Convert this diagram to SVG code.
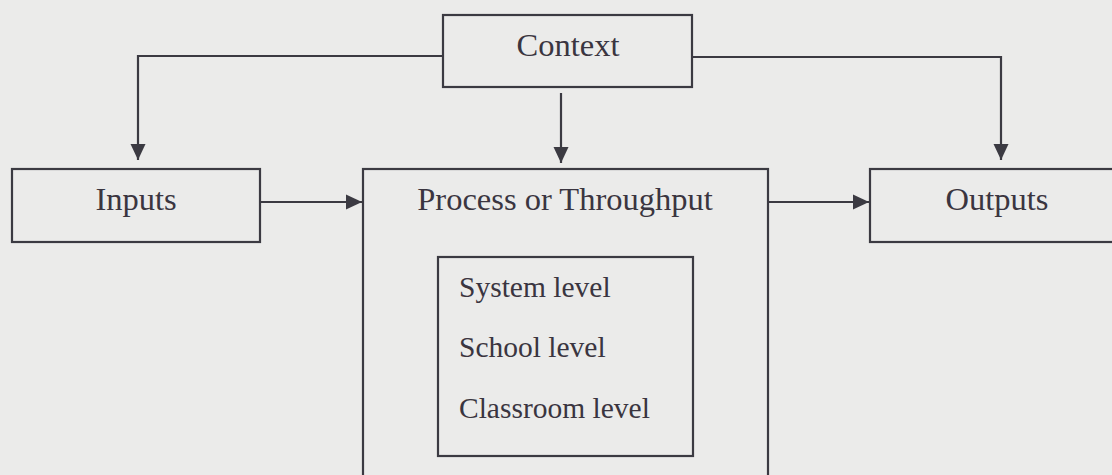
<svg xmlns="http://www.w3.org/2000/svg" width="1112" height="475" viewBox="0 0 1112 475">
<style>
.box{fill:none;stroke:#3b3a42;stroke-width:2.2}
.ln{fill:none;stroke:#3b3a42;stroke-width:2.2}
.t{font-family:"Liberation Serif","Times New Roman",serif;font-size:32.5px;fill:#3a3540}
.ti{font-family:"Liberation Serif","Times New Roman",serif;font-size:29.5px;fill:#3a3540}
</style>
<defs>
<marker id="ah" markerUnits="userSpaceOnUse" markerWidth="18" markerHeight="18" viewBox="0 0 18 18" refX="16" refY="9" orient="auto">
<path d="M0,1.5 L16,9 L0,16.5 Z" fill="#3b3a42"/>
</marker>
</defs>
<rect width="1112" height="475" fill="#ebebea"/>
<g id="connectors">
<path class="ln" d="M443,56 H138 V160" marker-end="url(#ah)"/>
<path class="ln" d="M692,57 H1001 V160" marker-end="url(#ah)"/>
<path class="ln" d="M561,93 V163" marker-end="url(#ah)"/>
<path class="ln" d="M260,202 H362" marker-end="url(#ah)"/>
<path class="ln" d="M768,202 H869" marker-end="url(#ah)"/>
</g>
<g id="context">
<rect class="box" x="443" y="15" width="249" height="72"/>
<text class="t" x="568" y="56" text-anchor="middle">Context</text>
</g>
<g id="inputs">
<rect class="box" x="12" y="169" width="248" height="73"/>
<text class="t" x="136" y="210" text-anchor="middle">Inputs</text>
</g>
<g id="process">
<rect class="box" x="363" y="169" width="405" height="320"/>
<text class="t" x="565" y="210" text-anchor="middle">Process or Throughput</text>
</g>
<g id="levels">
<rect class="box" x="438" y="257" width="255" height="199"/>
<text class="ti" x="459" y="297">System level</text>
<text class="ti" x="459" y="357">School level</text>
<text class="ti" x="459" y="418">Classroom level</text>
</g>
<g id="outputs">
<rect class="box" x="870" y="169" width="260" height="73"/>
<text class="t" x="997" y="210" text-anchor="middle">Outputs</text>
</g>
</svg>
